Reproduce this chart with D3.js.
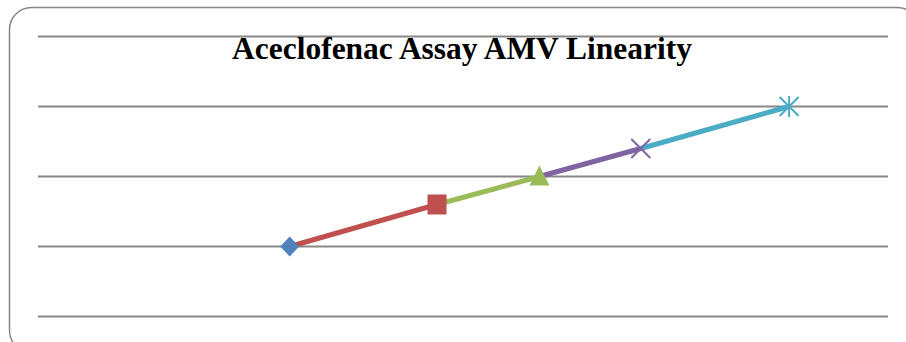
<!DOCTYPE html>
<html>
<head>
<meta charset="utf-8">
<script src="https://cdn.jsdelivr.net/npm/d3@7"></script>
<style>
  html, body { margin: 0; padding: 0; background: #fff; }
  svg { display: block; }
</style>
</head>
<body>
<svg id="chart" width="906" height="342"></svg>
<script>
// Data
const title = "Aceclofenac Assay AMV Linearity";
const levels = [50, 79.5, 100, 120.3, 150];      // x values (% level)
const responses = [1.0, 1.6, 2.0, 2.4, 3.0];     // y values
const seriesNames = ["50%", "80%", "100%", "120%", "150%"];
const colors = ["#4F81BD", "#C0504D", "#9BBB59", "#8064A2", "#4BACC6"];
const markers = ["diamond", "square", "triangle", "x", "asterisk"];
const yTicks = [0, 1, 2, 3, 4];

const svg = d3.select("#chart");

// Frame
svg.append("rect")
  .attr("x", 9.5).attr("y", 7.5)
  .attr("width", 910).attr("height", 345)
  .attr("rx", 22).attr("ry", 22)
  .attr("fill", "#fff").attr("stroke", "#868686").attr("stroke-width", 1.5);

const plot = { left: 38, right: 888, top: 36.5, bottom: 316.5 };

const x = d3.scaleLinear().domain([0, 170]).range([40, 889]);
const y = d3.scaleLinear().domain([0, 4]).range([plot.bottom, plot.top]);

// Gridlines
svg.append("g").selectAll("line").data(yTicks).join("line")
  .attr("x1", plot.left).attr("x2", plot.right)
  .attr("y1", d => y(d)).attr("y2", d => y(d))
  .attr("stroke", "#878787").attr("stroke-width", 2);

// Title
const t = svg.append("text")
  .attr("x", 462).attr("y", 58.5)
  .attr("text-anchor", "middle")
  .attr("font-family", "'Liberation Serif', 'Times New Roman', serif")
  .attr("font-weight", "bold")
  .attr("font-size", 28)
  .attr("fill", "#000")
  .text(title);
const w = t.node().getComputedTextLength();
t.attr("font-size", 28 * 460 / w);

// Segments, colored by ending point's series
const pts = levels.map((lv, i) => ({ x: lv, y: responses[i], i }));
const segs = d3.pairs(pts);
svg.append("g").selectAll("line").data(segs).join("line")
  .attr("x1", d => x(d[0].x)).attr("y1", d => y(d[0].y))
  .attr("x2", d => x(d[1].x)).attr("y2", d => y(d[1].y))
  .attr("stroke", d => colors[d[1].i])
  .attr("stroke-width", 5);

// Markers
const g = svg.append("g");
pts.forEach(p => {
  const cx = x(p.x), cy = y(p.y), c = colors[p.i], m = markers[p.i];
  if (m === "diamond") {
    g.append("path").attr("d", `M${cx},${cy-10} L${cx+9.5},${cy} L${cx},${cy+10} L${cx-9.5},${cy} Z`).attr("fill", c);
  } else if (m === "square") {
    g.append("rect").attr("x", cx-9.5).attr("y", cy-10).attr("width", 19).attr("height", 20).attr("fill", c);
  } else if (m === "triangle") {
    g.append("path").attr("d", `M${cx},${cy-11} L${cx+10},${cy+9} L${cx-10},${cy+9} Z`).attr("fill", c);
  } else if (m === "x") {
    g.append("path").attr("d", `M${cx-9.5},${cy-9.5} L${cx+9.5},${cy+9.5} M${cx+9.5},${cy-9.5} L${cx-9.5},${cy+9.5}`)
      .attr("stroke", c).attr("stroke-width", 2).attr("fill", "none");
  } else if (m === "asterisk") {
    g.append("path").attr("d", `M${cx-9.5},${cy-9.5} L${cx+9.5},${cy+9.5} M${cx+9.5},${cy-9.5} L${cx-9.5},${cy+9.5} M${cx},${cy-10.5} L${cx},${cy+10.5}`)
      .attr("stroke", c).attr("stroke-width", 2).attr("fill", "none");
  }
});
</script>
</body>
</html>
